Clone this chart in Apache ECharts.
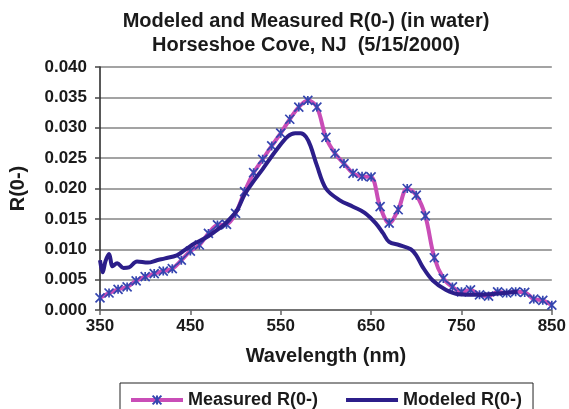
<!DOCTYPE html>
<html>
<head>
<meta charset="utf-8">
<script src="https://cdn.jsdelivr.net/npm/echarts@6/dist/echarts.min.js"></script>
<style>
  html, body { margin: 0; padding: 0; background: #fff; }
  #chart { width: 569px; height: 409px; }
</style>
</head>
<body>
<div id="chart"></div>
<script>
// Wavelengths (nm) of the measured reflectance samples
const measuredWavelength = [
  350, 360, 370, 380, 390, 400, 410, 420, 430, 440,
  450, 460, 470, 480, 490, 500, 510, 520, 530, 540,
  550, 560, 570, 580, 590, 600, 610, 620, 630, 640,
  650, 660, 670, 680, 690, 700, 710, 720, 730, 740,
  750, 760, 770, 780, 790, 800, 810, 820, 830, 840, 850
];
// Measured R(0-) at those wavelengths
const measuredR = [
  0.0020, 0.0028, 0.0034, 0.0038, 0.0048, 0.0055, 0.0060, 0.0064, 0.0068, 0.0082,
  0.0097, 0.0107, 0.0126, 0.0140, 0.0141, 0.0159, 0.0195, 0.0226, 0.0248, 0.0270,
  0.0291, 0.0314, 0.0334, 0.0345, 0.0334, 0.0284, 0.0258, 0.0241, 0.0225, 0.0220,
  0.0219, 0.0170, 0.0143, 0.0165, 0.0200, 0.0189, 0.0155, 0.0086, 0.0052, 0.0038,
  0.0030, 0.0033, 0.0025, 0.0023, 0.0030, 0.0028, 0.0030, 0.0029, 0.0018, 0.0016, 0.0008
];

// Modeled spectrum (finer sampling near the UV end)
const modeledWavelength = [
  350, 353, 356, 360, 364, 369, 376, 382, 391, 403,
  413, 422, 435, 444, 455, 466, 476, 487, 495, 502,
  510, 520, 530, 545, 558, 566, 572, 578, 583, 590,
  600, 615, 630, 643, 655, 663, 670, 681, 694, 700,
  707, 718, 733, 747, 770, 790, 812
];
const modeledR = [
  0.0082, 0.0062, 0.0080, 0.0092, 0.0072, 0.0077, 0.0069, 0.0070, 0.0080, 0.0078,
  0.0082, 0.0085, 0.0090, 0.0099, 0.0110, 0.0118, 0.0128, 0.0140, 0.0152, 0.0165,
  0.0190, 0.0212, 0.0232, 0.0263, 0.0286, 0.0291, 0.0291, 0.0285, 0.0270, 0.0238,
  0.0200, 0.0181, 0.0170, 0.0160, 0.0143, 0.0127, 0.0112, 0.0107, 0.0100, 0.0090,
  0.0071, 0.0049, 0.0033, 0.0026, 0.0025, 0.0027, 0.0030
];

// Axis settings
const xMin = 350, xMax = 850, xStep = 100;
const yMin = 0, yMax = 0.04, yStep = 0.005;

const titleLines = ['Modeled and Measured R(0-) (in water)', 'Horseshoe Cove, NJ  (5/15/2000)'];
const seriesNames = ['Measured R(0-)', 'Modeled R(0-)'];

const pair = (xs, ys) => xs.map((x, i) => [x, ys[i]]);

const FONT = 'Liberation Sans, Arial, sans-serif';
const INK = '#1a1a1a';
// asterisk-style cross marker
const starPath = 'path://M0,0L10,10M10,0L0,10M5,0L5,10';

const chart = echarts.init(document.getElementById('chart'), null, { renderer: 'canvas' });
chart.setOption({
  backgroundColor: '#ffffff',
  animation: false,
  title: {
    text: titleLines.join('\n'),
    left: 301, top: 4, textAlign: 'center',
    textStyle: { fontFamily: FONT, fontWeight: 'bold', fontSize: 20, color: INK, lineHeight: 24 }
  },
  grid: { left: 100, right: 15, top: 67, bottom: 99, containLabel: false },
  xAxis: {
    type: 'value', min: xMin, max: xMax, interval: xStep,
    name: 'Wavelength (nm)', nameLocation: 'middle', nameGap: 36,
    nameTextStyle: { fontFamily: FONT, fontWeight: 'bold', fontSize: 20, color: INK },
    axisLine: { lineStyle: { color: '#666', width: 1.5 } },
    axisTick: { show: true, inside: false, length: 5, lineStyle: { color: '#666', width: 1.5 } },
    axisLabel: { fontFamily: FONT, fontWeight: 'bold', fontSize: 17, color: INK, margin: 8 },
    splitLine: { show: false }
  },
  yAxis: {
    type: 'value', min: yMin, max: yMax, interval: yStep,
    name: 'R(0-)', nameLocation: 'middle', nameGap: 72, nameRotate: 90,
    nameTextStyle: { fontFamily: FONT, fontWeight: 'bold', fontSize: 20, color: INK },
    axisLine: { show: true, lineStyle: { color: '#222', width: 1.5 } },
    axisTick: { show: true, inside: false, length: 5, lineStyle: { color: '#444', width: 1.5 } },
    axisLabel: {
      fontFamily: FONT, fontWeight: 'bold', fontSize: 17, color: INK, margin: 13,
      formatter: v => v.toFixed(3)
    },
    splitLine: { show: true, lineStyle: { color: '#858585', width: 1.5 } }
  },
  legend: {
    left: 120, top: 383,
    padding: [8, 11, 12, 9],
    itemGap: 26, itemWidth: 52, itemHeight: 11,
    borderColor: '#222', borderWidth: 1,
    lineStyle: { width: 4 },
    textStyle: { fontFamily: FONT, fontWeight: 'bold', fontSize: 18, color: INK },
    data: seriesNames
  },
  series: [
    {
      name: seriesNames[0], type: 'line', smooth: 0.35,
      data: pair(measuredWavelength, measuredR),
      symbol: starPath, symbolSize: 9, showAllSymbol: true,
      lineStyle: { color: '#C94DB7', width: 4 },
      itemStyle: { color: 'rgba(0,0,0,0)', borderColor: '#3546B0', borderWidth: 1.7 },
      z: 2
    },
    {
      name: seriesNames[1], type: 'line', smooth: 0.35,
      data: pair(modeledWavelength, modeledR),
      symbol: 'none',
      lineStyle: { color: '#2C1E8A', width: 4 },
      itemStyle: { color: 'rgba(0,0,0,0)' },
      z: 3
    }
  ]
});
</script>
</body>
</html>
